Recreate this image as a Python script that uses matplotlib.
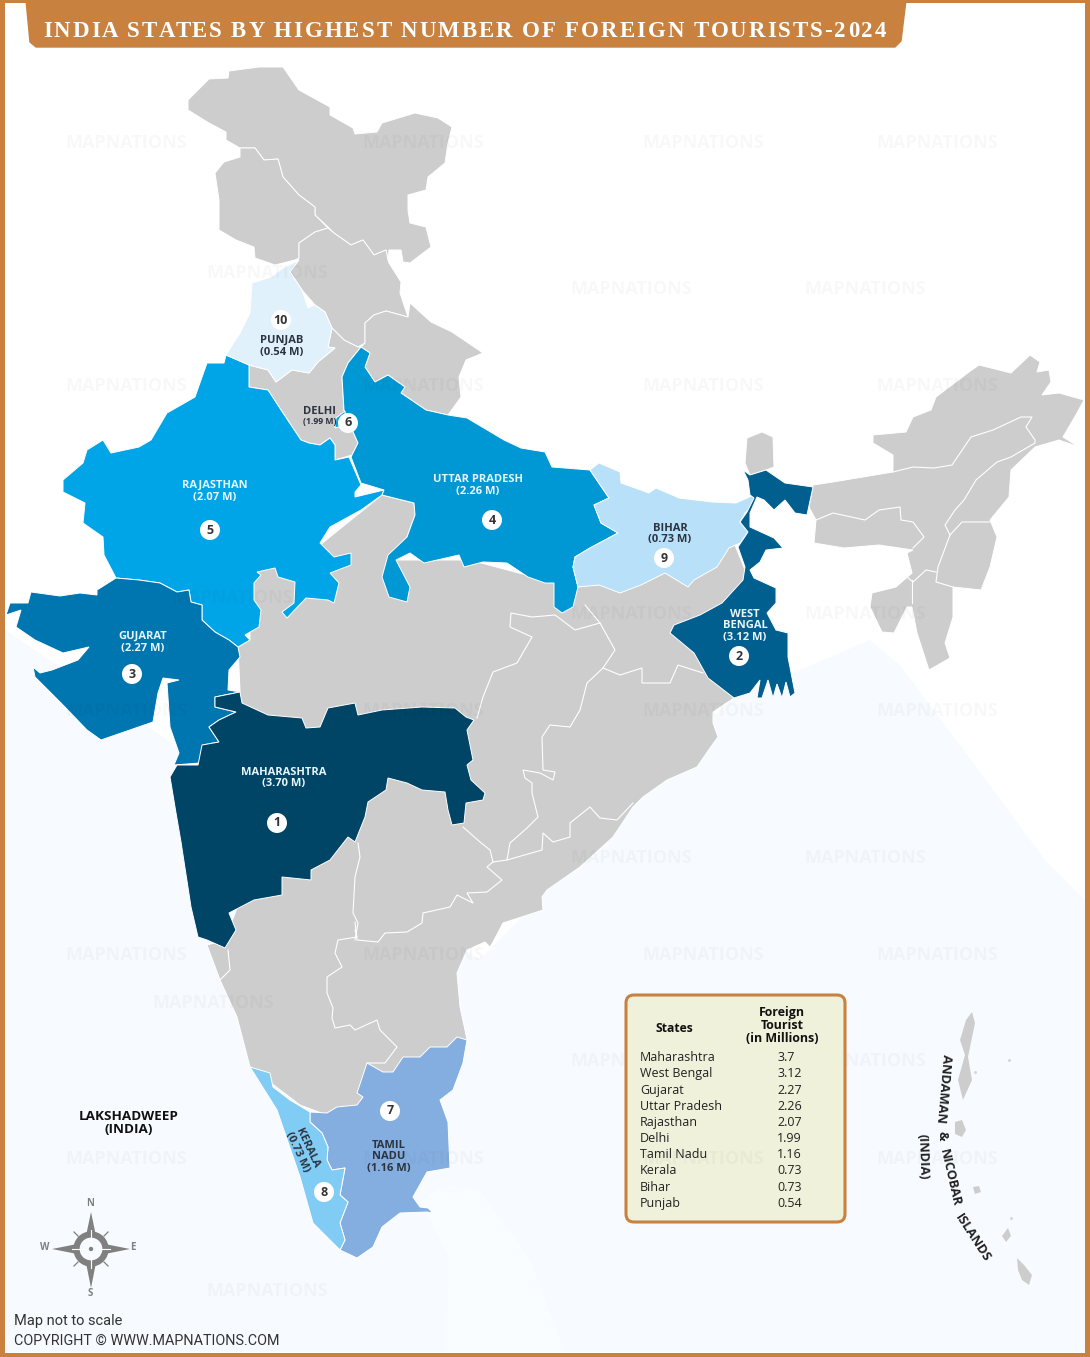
import matplotlib
matplotlib.use("Agg")
import matplotlib.pyplot as plt
from matplotlib.patches import Polygon, FancyBboxPatch, Circle, Rectangle
from matplotlib.font_manager import FontProperties
from matplotlib.textpath import TextToPath

# Datos de la tabla
states = ["Maharashtra", "West Bengal", "Gujarat", "Uttar Pradesh", "Rajasthan",
          "Delhi", "Tamil Nadu", "Kerala", "Bihar", "Punjab"]
tourists = ["3.7", "3.12", "2.27", "2.26", "2.07", "1.99", "1.16", "0.73", "0.73", "0.54"]

# Colores
ORANGE = "#c8813f"
GRAY = "#cdcdcd"

# Contornos (pixeles)
central = [(238,647),(250,640),(250,570),(320,545),(382,495),(414,503),(415,515),(407,537),(396,560),(470,560),(545,580),
           (575,585),(640,575),(665,565),(700,560),(735,545),(745,570),(743,585),(722,610),(700,625),(700,660),(734,698),
           (713,712),(713,723),(718,737),(710,748),(697,767),(667,780),(643,797),(633,807),(613,837),(580,867),(547,890),
           (542,897),(543,910),(503,923),(493,942),(490,947),(485,942),(467,950),(457,973),(460,1007),(465,1030),(467,1040),
           (450,1060),(340,1120),(300,1105),(250,1067),(243,1040),(237,1017),(220,980),(207,945),(225,940),(240,900),(240,690)]
ladakh = [(188,100),(209,79),(228,78),(229,71),(259,67),(283,67),(299,90),(330,107),(330,115),(353,128),(355,134),(377,132),
          (382,123),(415,113),(438,118),(452,127),(448,143),(445,163),(428,177),(426,190),(408,195),(408,210),(410,223),
          (426,227),(431,247),(410,263),(403,262),(401,250),(389,250),(388,260),(386,250),(374,255),(363,240),(351,245),
          (334,233),(328,227),(315,215),(315,207),(299,195),(283,177),(278,159),(264,160),(255,148),(240,148),(226,140),
          (226,132),(209,123),(188,110)]
jammu = [(240,148),(255,148),(264,160),(278,159),(283,177),(299,195),(315,207),(315,215),(328,228),(315,232),(299,243),
         (299,258),(295,260),(275,265),(255,258),(254,247),(236,240),(219,230),(219,200),(215,173),(224,162),(240,157)]
himachal = [(299,258),(299,243),(315,232),(328,228),(334,233),(351,245),(363,240),(374,255),(386,250),(388,260),(389,263),
            (401,282),(400,293),(405,308),(408,317),(386,311),(374,315),(365,323),(365,343),(358,347),(344,340),(332,328),
            (325,312),(315,305),(302,290),(290,272)]
uttarakhand = [(361,347),(365,343),(365,323),(374,315),(386,311),(408,317),(410,303),(431,322),(452,332),(483,353),(466,360),
               (459,377),(461,397),(448,415),(426,410),(401,393),(405,387),(388,375),(375,382),(365,367),(370,353)]
punjab = [(283,268),(299,260),(290,272),(302,290),(308,308),(315,305),(325,312),(332,328),(328,347),(335,348),(318,362),
          (309,373),(292,370),(276,382),(268,370),(249,365),(226,355),(240,333),(250,313),(252,283),(271,277)]
haryana = [(249,365),(268,370),(276,382),(292,370),(309,373),(318,362),(335,348),(328,347),(332,328),(344,340),(358,347),
           (361,347),(348,363),(342,377),(344,410),(350,425),(358,443),(352,455),(335,460),(335,445),(330,438),(320,445),
           (309,443),(301,440),(283,413),(268,390),(249,387)]
delhi = [(336,418),(345,411),(345,425),(335,428)]
rajasthan = [(226,355),(224,363),(207,363),(195,397),(167,413),(151,440),(139,447),(111,453),(103,440),(87,450),(83,463),
             (63,480),(63,492),(85,503),(83,523),(103,537),(104,555),(116,578),(139,580),(160,583),(177,592),(189,590),
             (191,602),(202,605),(202,620),(215,632),(229,640),(238,647),(250,640),(245,635),(259,627),(261,610),(254,600),
             (254,583),(261,575),(257,572),(275,568),(278,577),(295,582),(294,603),(282,612),(287,618),(306,598),(328,600),
             (334,603),(339,583),(330,573),(351,565),(351,553),(334,557),(320,543),(330,527),(361,510),(382,495),(384,490),
             (355,497),(355,492),(361,485),(349,457),(335,460),(335,445),(330,438),(320,445),(309,443),(301,440),(283,413),
             (268,390),(249,387),(249,365)]
uttar_pradesh = [(361,347),(370,353),(365,367),(375,382),(388,375),(405,387),(401,393),(426,410),(448,415),(467,418),(504,440),
                 (521,448),(545,452),(552,467),(590,470),(609,498),(594,505),(601,523),(618,533),(590,548),(575,557),(573,567),
                 (578,587),(573,607),(562,613),(554,607),(554,583),(545,583),(528,577),(507,563),(483,562),(464,567),(459,555),
                 (424,563),(410,553),(396,560),(410,587),(407,602),(389,597),(382,577),(388,555),(407,537),(415,515),(414,503),
                 (382,495),(384,490),(361,483),(351,457),(358,443),(350,425),(344,410),(342,377),(348,363)]
gujarat = [(116,578),(97,590),(97,595),(80,593),(60,596),(31,592),(28,603),(10,603),(6,615),(21,610),(16,627),(35,640),
           (63,653),(89,647),(78,660),(52,670),(40,673),(33,667),(35,677),(61,703),(87,730),(101,740),(153,722),(158,693),
           (163,678),(179,680),(167,683),(170,727),(179,753),(174,765),(200,763),(203,745),(219,742),(209,727),(219,720),
           (236,712),(215,707),(215,697),(240,692),(228,690),(229,670),(240,657),(238,647),(229,640),(215,632),(202,620),
           (202,605),(191,602),(189,590),(177,592),(160,583),(139,580)]
maharashtra = [(215,697),(240,692),(242,703),(268,715),(302,718),(306,728),(320,727),(328,708),(355,703),(358,715),(382,710),
               (422,707),(455,708),(466,717),(474,720),(467,730),(473,760),(467,765),(471,780),(485,793),(483,800),(466,803),
               (464,823),(452,825),(448,810),(445,792),(422,790),(407,783),(388,778),(386,790),(368,802),(365,817),(355,842),
               (348,837),(330,860),(311,870),(311,880),(282,877),(282,895),(254,900),(229,913),(236,930),(225,948),(207,940),
               (198,937),(191,907),(181,842),(176,813),(170,777),(177,765),(198,765),(202,745),(219,742),(209,727),(219,720),
               (236,712),(215,707)]
bihar = [(590,470),(599,463),(620,472),(621,483),(649,493),(656,488),(679,498),(712,502),(736,503),(754,495),(755,503),
         (745,513),(740,522),(748,532),(740,543),(729,548),(717,567),(694,580),(688,587),(665,573),(641,585),(620,593),
         (599,585),(578,587),(573,567),(575,557),(590,548),(618,533),(601,523),(594,505),(609,498)]
west_bengal = [(743,470),(750,475),(766,470),(785,483),(813,487),(807,515),(795,513),(785,500),(774,510),(764,500),(757,497),
               (750,513),(750,527),(774,538),(783,548),(766,550),(760,562),(750,570),(754,578),(776,588),(776,603),(767,613),
               (776,630),(788,633),(788,657),(795,693),(790,697),(786,682),(782,698),(777,684),(773,698),(768,680),(762,698),
               (757,698),(760,680),(750,693),(734,698),(708,678),(694,653),
               (670,633),(674,625),(700,615),(722,603),(743,580),(745,567),(738,547),(748,532),(740,522),(747,512),(754,498),
               (750,495),(748,480)]
sikkim = [(745,463),(747,438),(762,432),(773,437),(774,467),(766,470),(750,475)]
tamil_nadu = [(467,1040),(463,1063),(453,1090),(440,1100),(448,1122),(450,1168),(427,1172),(413,1197),(420,1207),(428,1208),
              (433,1213),(427,1212),(400,1213),(382,1227),(373,1247),(357,1258),(340,1250),(345,1240),(340,1223),(348,1202),
              (340,1195),(345,1168),(332,1170),(327,1160),(328,1147),(322,1133),(310,1122),(310,1112),(327,1113),(337,1107),
              (357,1105),(363,1097),(357,1093),(367,1063),(383,1072),(393,1072),(403,1057),(420,1057),(430,1047),(447,1047),(457,1037)]
kerala = [(250,1067),(270,1073),(273,1087),(290,1100),(310,1112),(310,1122),(322,1133),(328,1147),(327,1160),(332,1170),
          (345,1168),(340,1195),(348,1202),(340,1223),(345,1240),(340,1250),(313,1223),(300,1177),(277,1110)]
northeast = [(813,485),(833,482),(893,472),(893,455),(873,443),(873,435),(906,432),(913,417),(931,410),(936,397),(969,372),
             (979,365),(1011,373),(1030,355),(1040,362),(1037,372),(1049,370),(1051,382),(1042,395),(1059,393),(1084,400),
             (1077,413),(1063,437),(1079,447),(1059,440),(1035,447),(1011,470),(1009,497),(990,520),(997,537),(990,567),
             (981,590),(953,587),(953,617),(945,643),(950,658),(929,670),(917,633),(912,607),(907,607),(894,633),(882,632),
             (870,607),(872,593),(896,587),(912,573),(907,553),(913,550),(879,545),(844,548),(814,543),(816,520),(809,507)]
andaman = [(972,1012),(966,1020),(960,1040),(965,1055),(958,1080),(963,1100),(972,1080),(968,1057),(975,1023)]
little_andaman = [(955,1122),(962,1120),(966,1130),(962,1137),(955,1134)]
nicobar = [(1017,1258),(1024,1265),(1032,1275),(1029,1285),(1022,1280),(1018,1270)]
car_nicobar = [(973,1187),(979,1186),(981,1192),(975,1194)]
nancowry = [(1008,1228),(1011,1236),(1006,1242),(1002,1236)]
sea = [(5,630),(160,735),(480,960),(730,700),(870,640),(900,665),(960,745),(1045,860),(1085,900),(1085,1352),(5,1352)]
sri_lanka = [(415,1205),(445,1185),(480,1190),(530,1260),(565,1352),(445,1352),(450,1260),(430,1220)]

# Fronteras interiores
border_lines = [
    [(355,930),(357,937),(338,940),(335,953),(342,967),(327,977),(327,993),(333,1008),(332,1018),(335,1028),(350,1025),(355,1030),
     (377,1020),(380,1030),(397,1047),(385,1063),(367,1063)],
    [(355,922),(357,940),(378,942),(385,933),(407,932),(422,923),(423,913),(450,907),(457,895),(473,903),(467,893),(487,892),
     (502,880),(487,867),(493,862),(490,850),(480,842),(463,827)],
    [(358,843),(360,857),(355,877),(353,913),(358,923),(355,940)],
    [(493,862),(507,860),(542,850),(543,833),(553,842),(570,837),(570,823),(590,807),(600,818),(617,820),(633,803)],
    [(507,860),(510,843),(527,828),(538,817),(532,793),(532,783),(525,778),(523,770),(540,773),(553,780),(555,772),(543,770),
     (542,737),(550,725),(570,727),(580,710),(587,683),(603,668),(615,650),(600,623),(585,605)],
    [(477,718),(483,697),(493,672),(517,663),(532,637),(510,627),(511,613),(532,617),(555,615),(575,630),(600,623)],
    [(603,668),(620,675),(642,668),(642,683),(670,683),(678,665),(703,673)],
    [(228,950),(230,970),(220,980)],
    [(893,472),(913,467),(934,468),(952,465),(971,437),(993,430),(1021,417),(1032,417),(1026,427),(1035,440),(1035,443),
     (1011,457),(997,462),(976,480),(964,500),(955,510),(945,525),(950,535),(962,522),(990,522)],
    [(950,535),(938,567),(936,582),(953,587)],
    [(936,572),(926,570),(913,582),(908,578),(907,553)],
    [(912,580),(912,603)],
    [(816,520),(833,513),(865,520),(879,510),(900,507),(901,520),(913,522),(924,537),(913,548)],
]

# Marcas de agua
watermark_x = [126,423,703,937,267,631,865,126,423,703,937,631,865,232,126,423,703,937,631,865,126,423,703,937,213,631,865,126,423,703,937,267]
watermark_y = [143,143,143,143,273,289,289,386,386,386,386,614,614,598,711,711,711,711,858,858,955,955,955,955,1003,1061,1061,1159,1159,1159,1159,1291]

fig = plt.figure(figsize=(10.9, 13.57), dpi=100)
ax = fig.add_axes([0, 0, 1, 1])
ax.set_xlim(0, 1090)
ax.set_ylim(1357, 0)
ax.axis("off")

ax.add_patch(Polygon(sea, closed=True, fc="#f7fbff", ec="none", zorder=1))
ax.add_patch(Polygon(sri_lanka, closed=True, fc="#fafdff", ec="none", zorder=1.5))

# Estados en gris
for shape in [central, ladakh, jammu, himachal, uttarakhand, haryana, sikkim, northeast]:
    ax.add_patch(Polygon(shape, closed=True, fc=GRAY, ec="white", lw=0.7, zorder=2))
for line in border_lines:
    ax.plot([p[0] for p in line], [p[1] for p in line], color="white", lw=0.8, zorder=3)

# Estados con color
colored = [(rajasthan, "#00a5e8"), (uttar_pradesh, "#0098d4"), (gujarat, "#0076b0"), (maharashtra, "#004466"),
           (bihar, "#b8e0f8"), (west_bengal, "#005f8f"), (tamil_nadu, "#85aee0"), (kerala, "#80ccf5"),
           (punjab, "#e0f1fc"), (delhi, "#00a5e8")]
for shape, col in colored:
    ax.add_patch(Polygon(shape, closed=True, fc=col, ec="white", lw=0.7, zorder=4))

# Islas
for shape in [andaman, little_andaman, nicobar, car_nicobar, nancowry]:
    ax.add_patch(Polygon(shape, closed=True, fc=GRAY, ec="none", zorder=2))
ax.scatter([1009, 975, 1011], [1060, 1072, 1218], s=5, color="#d8d8d8", linewidths=0, zorder=2)

# Marcas de agua (la de Tamil Nadu queda encima de la tabla, como en la imagen)
for wx, wy in zip(watermark_x, watermark_y):
    over_table = wx == 703 and wy == 1159
    ax.text(wx, wy, "MAPNATIONS", family="Open Sans", weight="bold", fontsize=13, color="black", alpha=0.028,
            ha="center", va="center", zorder=9.5 if over_table else 5)

# Marco y cabecera
for rect in [(0, 0, 5, 1357), (1085, 0, 5, 1357), (0, 1353, 1090, 4), (0, 0, 1090, 3)]:
    ax.add_patch(Rectangle(rect[:2], rect[2], rect[3], fc=ORANGE, ec="none", zorder=6))
banner = [(26, 0), (906, 0), (901, 41), (895, 47), (36, 47), (30, 42)]
ax.add_patch(Polygon(banner, closed=True, fc=ORANGE, ec=ORANGE, lw=1, joinstyle="round", zorder=6))

# Titulo con letras separadas
title = "INDIA STATES BY HIGHEST NUMBER OF FOREIGN TOURISTS-2024"
fp = FontProperties(family="Liberation Serif", weight="bold", size=16.5)
ttp = TextToPath()
def text_width(s):
    w, _, _ = ttp.get_text_width_height_descent(s, fp, False)
    return w * fig.dpi / 72
extra = (886 - 43 - text_width(title)) / (len(title) - 1)
for i, ch in enumerate(title):
    ax.text(43 + text_width(title[:i]) + i * extra, 37, ch, fontproperties=fp, color="white", ha="left", va="baseline", zorder=7)

# Etiquetas de los estados
def label(x, y, s, col, size=8, rot=0):
    ax.text(x, y + 1, s, family="Open Sans", weight="bold", fontsize=size, color=col, ha="center", va="center",
            rotation=rot, rotation_mode="anchor", zorder=8)

# Etiquetas apiladas sobre la linea base para que no se toquen
def stacked(x, y, s, col, size=8):
    ax.text(x, y + 4, s, family="Open Sans", weight="bold", fontsize=size, color=col, ha="center", va="baseline", zorder=8)

DARK = "#2b3440"
stacked(282, 339, "PUNJAB", DARK)
stacked(282, 351, "(0.54 M)", DARK)
stacked(320, 410, "DELHI", DARK)
stacked(320, 420, "(1.99 M)", DARK, size=6.2)
stacked(215, 484, "RAJASTHAN", "#e8f6fd")
stacked(215, 496, "(2.07 M)", "#e8f6fd")
stacked(478, 478, "UTTAR PRADESH", "#e8f6fd")
stacked(478, 490, "(2.26 M)", "#e8f6fd")
stacked(670, 527, "BIHAR", DARK)
stacked(670, 538, "(0.73 M)", DARK)
stacked(745, 613, "WEST", "#e8f6fd")
stacked(745, 624, "BENGAL", "#e8f6fd")
stacked(745, 636, "(3.12 M)", "#e8f6fd")
stacked(143, 635, "GUJARAT", "#e8f6fd")
stacked(143, 647, "(2.27 M)", "#e8f6fd")
stacked(284, 771, "MAHARASHTRA", "#e8f6fd")
stacked(284, 782, "(3.70 M)", "#e8f6fd")
stacked(389, 1144, "TAMIL", DARK)
stacked(389, 1155, "NADU", DARK)
stacked(389, 1167, "(1.16 M)", DARK)
label(307, 1147, "KERALA", DARK, rot=-65)
label(297, 1151, "(0.73 M)", DARK, rot=-65)

# Circulos con el puesto
ranks = [1, 2, 3, 4, 5, 6, 7, 8, 9, 10]
rank_x = [277, 739, 132, 492, 210, 348, 390, 324, 664, 281]
rank_y = [823, 656, 674, 520, 530, 423, 1111, 1192, 558, 320]
for r, rx, ry in zip(ranks, rank_x, rank_y):
    ax.add_patch(Circle((rx, ry), 10, fc="white", ec="none", zorder=8))
    ax.text(rx, ry, str(r), family="Open Sans", weight="bold", fontsize=9, color="#333333", ha="center", va="center", zorder=8.5)

# Textos de islas
ax.text(129, 1123, "LAKSHADWEEP\n(INDIA)", family="Open Sans", weight="bold", fontsize=9.7, color="#111111", ha="center",
        va="center", linespacing=0.95, zorder=8)
for x, y, s, rot in [(943, 1089, "ANDAMAN", -95), (942, 1136, "&", -90), (950, 1178, "NICOBAR", -77),
                     (973, 1238, "ISLANDS", -57), (923, 1157, "(INDIA)", -88)]:
    ax.text(x, y, s, family="Open Sans", weight="bold", fontsize=9.3, color="#222222", ha="center", va="center",
            rotation=rot, rotation_mode="anchor", zorder=8)

# Tabla
ax.add_patch(FancyBboxPatch((626, 995), 219, 227, boxstyle="round,pad=0,rounding_size=8", fc="#eff1db", ec=ORANGE, lw=2.2, zorder=8))
ax.text(674, 1032, "States", family="Open Sans", weight="bold", fontsize=8.7, color="#111111", ha="center", va="baseline", zorder=9)
for hy, hs in [(1016, "Foreign"), (1029, "Tourist"), (1042, "(in Millions)")]:
    ax.text(782, hy, hs, family="Open Sans", weight="bold", fontsize=8.9, color="#111111", ha="center", va="baseline", zorder=9)
row_y = [1061, 1077, 1094, 1110, 1126, 1142, 1158, 1174, 1191, 1207]
for name, val, ry in zip(states, tourists, row_y):
    ax.text(640, ry, name, family="Open Sans", fontsize=9, color="#222222", ha="left", va="baseline", zorder=9)
    ax.text(777, ry, val, family="Open Sans", fontsize=9, color="#222222", ha="left", va="baseline", zorder=9)

# Rosa de los vientos
COMPASS = "#808080"
cx, cy = 91, 1249
for tip, side in [((cx, 1212), (4.5, 0)), ((cx, 1288), (4.5, 0)), ((52, cy), (0, 4.5)), ((130, cy), (0, 4.5))]:
    bx = cx + (tip[0] - cx) * 0.42
    by = cy + (tip[1] - cy) * 0.42
    ax.add_patch(Polygon([tip, (bx + side[0], by + side[1]), (bx - side[0], by - side[1])], closed=True, fc=COMPASS, ec="none", zorder=5))
for dx, dy in [(1, 1), (1, -1), (-1, 1), (-1, -1)]:
    ax.plot([cx + dx * 13, cx + dx * 17], [cy + dy * 13, cy + dy * 17], color=COMPASS, lw=0.9, zorder=5)
ax.add_patch(Circle((cx, cy), 14.5, fc="none", ec=COMPASS, lw=4.5, zorder=5))
ax.plot([cx, cx], [cy - 19, cy + 19], color="white", lw=0.8, zorder=5.5)
ax.plot([cx - 19, cx + 19], [cy, cy], color="white", lw=0.8, zorder=5.5)
ax.add_patch(Circle((cx, cy), 2.2, fc=COMPASS, ec="none", zorder=5.6))
for lx, ly, s in [(90, 1203, "N"), (90, 1294, "S"), (45, 1248, "W"), (133, 1248, "E")]:
    ax.text(lx, ly, s, family="Open Sans", weight="bold", fontsize=7, color=COMPASS, ha="center", va="center", zorder=6)

# Notas
ax.text(14, 1321, "Map not to scale", family="Roboto", fontsize=10.5, color="#333333", ha="left", va="center", zorder=8)
ax.text(14, 1341, "COPYRIGHT \u00a9 WWW.MAPNATIONS.COM", family="Roboto", fontsize=10.4, color="#333333", ha="left", va="center", zorder=8)

plt.savefig("out.png", dpi=100)
plt.close()
